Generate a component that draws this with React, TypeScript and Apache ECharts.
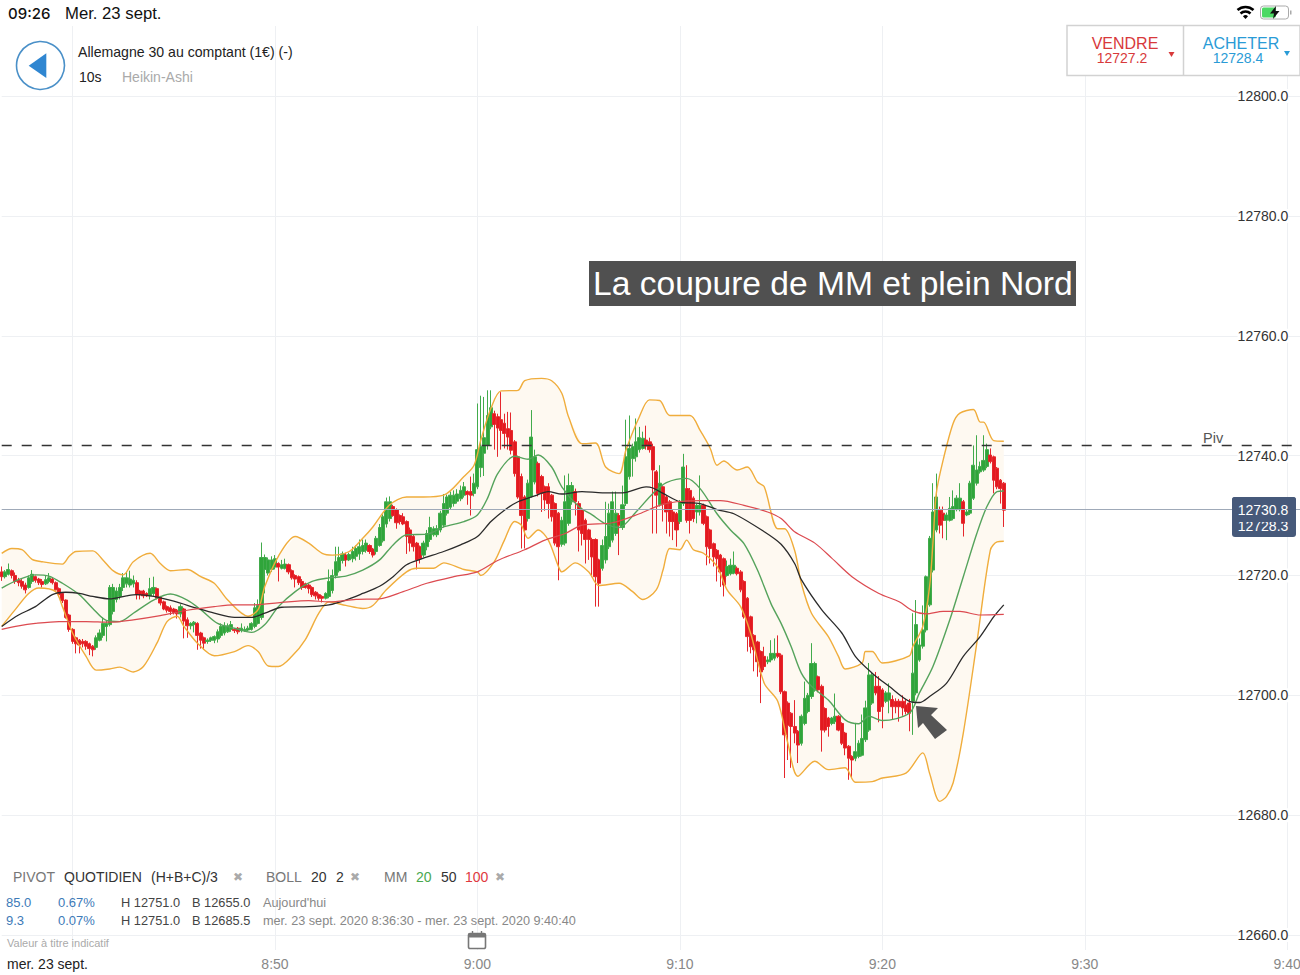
import React, { useEffect, useRef } from "react";
import * as echarts from "echarts";

// Prices are written as points above this level, as [open, close, low, high].
const PRICE_BASE = 12700;

const barsA = [
[20.6,19.8,19.1,21.5],[19.8,20.6,19.5,20.9],[20.2,21,20,22],[20.8,20,19.5,21],[20,19,18.6,20.5],[19.2,18.8,18.2,19.6],[19,18.2,17.8,19.4],[18.4,17.6,17,18.8],[18,19.6,17.8,20],[19,20.2,18.6,20.9],
[19.8,19.2,18.8,20],[19.4,18.8,18.4,19.6],[19,18.5,18,19.4],[18.6,19.3,18.4,20],[19,19.6,18.7,20.4],[19.4,18.8,18.5,19.6],[18.8,17.6,17.5,19],[17.8,16.8,16.4,18],[17,15.8,15.4,17.2],[15.9,13,12.8,16],
[13.4,11,10.6,13.6],[11,9,8.6,11.2],[9.6,8.6,7,9.8],[9.2,8.4,7,9.4],[9,8.6,8,9.4],[9,8.2,7.6,9.2],[8.6,7.8,6.7,8.8],[8.2,7.6,6.5,8.4],[8,9.6,7.6,10],[9.2,10.4,9,11],
[10,12,9.6,13],[11.5,12,9,12.4],[11.8,18,11.5,18.4],[14,18,13.5,18.6],[16,17.4,15.5,18],[16.5,18,16,18.6],[18,19.6,17.4,20.4],[18.6,19.6,18,20.6],[18.4,19.4,18,20.8],[18.6,19.2,18,20],
[18.8,16.8,16,19.2],[17.4,16.8,16,17.6],[17.4,16.6,16.2,17.6],[17,16.6,16.4,17.2],[16.6,17.8,16,19.6],[17,18,16.6,19.8],[17.8,16.2,16,18],[16.4,15.4,15,16.6],[15.6,14.4,14.2,15.8],[14.8,14.2,13.8,15],
[14.6,14,13.4,15],[14.4,13.8,13.5,14.6],[14.2,13.6,12.8,14.4],[13.6,14.8,13,15.2],[14.4,12.4,9.5,14.6],[12.6,11.6,9.6,13],[11.6,12,11,12.2],[11.8,12.2,10.5,12.4],[12,10,7.6,12.2],[10.4,9.2,7.8,10.6],
[9.6,8.7,7.6,9.8],[9,9.2,8.6,9.5],[9.2,9.6,8.9,9.8],[9.2,9.8,8.7,10],[9.4,10.6,8.8,11],[10,11.5,9.6,12],[10.4,11.6,10,12.2],[10.6,11.6,10.4,12],[11,11.8,10.6,12.4],[11,10.8,10.4,11.2],
[11.2,10.6,10.2,11.4],[10.8,11.2,10.5,12],[10.8,11,10.6,11.5],[10.9,11.2,10.7,11.6],[11,12,10.8,12.2],[11.5,14.6,11.2,15.4],[12,15,11.8,16],[13,23,12.6,25.5],[21,23,17,23.5],[20.4,22.6,20,23],
[21,22.6,20.6,23.2],[21.4,22.8,21,23.4],[22,21.4,19,22.2],[21.2,21.8,21,22.6],[21.2,21.9,21,22.8],[21.8,20.6,20.2,22],[20.8,19.6,19.3,21],[20,19.4,18,20.2],[19.8,18.8,18.4,20],[19,18,17.6,19.4],
[18.6,18,17.8,18.8],[18.4,17.8,17,18.6],[18,16.8,16.4,18.2],[17.2,16.6,16,17.4],[16.8,16.2,15.8,17],[16.5,16.2,15.5,16.7],[16.2,17,16,17.2],[16.5,19,16.2,21],
];

const barsB = [
[17.5,20,17,21],[20,22.3,19.5,24.8],[20.8,23,20.5,24.8],[22.5,23.6,22,24],[23.4,22.6,21.5,23.8],[22.6,23.5,22.4,23.8],[22.8,24,22.2,24.8],[23.2,24.5,22.5,25],[23.6,24.8,22.6,26],[24,25,23.5,26],
[24.2,25.4,23.8,26],[25,24,23.6,25.2],[24.4,23.4,23,24.6],[24,26.2,23.5,26.6],[25,28,24.8,28.6],[25.8,29.8,25.5,30.2],[28.6,32.3,28,33],[29.5,32.3,29,33.2],[31.5,30,29.8,31.8],[31,28.8,27.8,31.2],
[30,29,28.5,30.2],[29.8,28.6,28.4,30.4],[29,26.5,23.6,29.2],[27.6,25.4,24,28],[26.5,24.8,24,26.8],[25.4,22.6,21,25.6],[24.8,22.8,22,25],[23.4,25.4,23,25.8],[24.8,27,24.2,27.6],[26,28,25.6,29.8],
[26.8,27.8,26.5,28.2],[26.8,27.8,26.4,28.4],[27.6,30.4,27.2,30.8],[28.4,32,28,33.6],[30.4,33.1,30,33.5],[31.4,33.4,31,34],[32,33.4,31.5,34.2],[32.4,33.6,32,34.4],[32.8,34.2,32.4,35],[33.4,34.8,33,35.6],
[34,33.5,31.8,34.2],[34,33.4,30,36.5],[33.7,35.4,33.2,37],[34.8,41,34.4,48.7],[38,41.5,36.4,50],[40.4,43,36.6,49.8],[41.7,46.7,41,50.9],[44.8,48,44.4,50.9],[47,45.2,41,47.5],[46.5,44.6,39.8,47],
[46,44.2,41,50.6],[45.4,43.7,41.2,47],[44.5,43.1,41,47.3],[44.2,40.9,40.2,47.2],[42.3,37,36.5,42.6],[39.8,33.1,32.8,40],[36.5,30,24.5,37],[33.1,27.6,24.5,33.4],[29.5,35.4,29,36],[33.2,43.1,33,47.6],
[35.6,39.8,35.2,41],[38.7,33.7,33.2,39],[36.5,33.7,30.6,36.8],[34.8,32.6,30.8,35],[34.8,32,29.5,35.4],[33.4,29.8,29,33.6],[32,25.4,25,32.2],[30.4,24.8,19.2,30.6],[25.2,29.2,24.8,29.8],[25.4,32.3,25,36.7],
[28.7,35,28.3,37],[32.3,35,31.8,35.6],[34,32.3,30,34.5],[32,27.6,24,32.4],[31,27,25,31.3],[29.2,26,22,29.5],[27.6,26,22.6,27.8],[26,23.1,20,26.3],[26,19.8,14.8,26.2],[22.6,18.7,14.8,22.8],
[21.2,25,20.8,26],[22.6,26.5,22,32.3],[24.8,30.4,24.4,32],[25.9,32.3,25.5,34],[27,30.4,26.6,34],[30,28.4,23.4,30.4],[28,31.8,27.6,35],[32,39.8,31.6,46],[36.5,41.2,36,46.7],[39.5,41.5,36.5,42],
[39.8,42.3,39,46.2],[41,43,40.5,44.8],[41.2,42.9,41,44],[42.6,41.6,41,45],[42.3,41,40.5,43],[41.5,37.6,27,42],[37.3,33.4,27,37.6],[31.8,35.4,31.5,38.4],
];

const barsC = [
[34.8,32,29,35],[33.1,30.6,27,33.4],[32.3,29,26.5,32.6],[30.6,29,25.9,31],[30.3,27.6,24.8,30.6],[29,32.3,28.6,32.6],[32,38.1,31.6,40.3],[34.5,29.2,28.8,38.4],[34.2,29.2,27,34.6],[32.9,29.5,28.9,33.2],
[30.6,31.7,28.7,32],[30.6,31.7,30,36.7],[31.7,28.7,28.4,32],[29.8,24.8,21.7,30],[27.6,24.5,22,27.8],[25.3,23.1,21.5,25.5],[24.2,22.8,19,24.4],[23.4,20.6,18.1,23.6],[22.8,18.4,16.5,23],[20,21.5,19.8,22.5],
[20.3,21.7,20,22.8],[20.4,21.7,20.2,24],[21.2,20.3,20,21.5],[20.6,17.6,17.2,20.9],[19,13.1,12.8,19.2],[16.2,9.8,7.3,16.4],[13.1,8.1,7,13.3],[10,7.6,4,10.2],[8.9,5.6,3.1,9.1],[7.3,3.9,-1.3,7.5],
[6.5,4.8,4.2,8.1],[5.6,5.9,5.2,6.5],[5.9,7,5.5,9.2],[6.2,7,5.8,9.5],[7,6.5,6.2,10],[6.7,0.6,0.2,7],[0.6,-6.6,-13.8,0.8],[-1.3,-5,-10.8,-1],[-3,-5.2,-12.1,-2.8],[-5.2,-6.3,-8,-0.8],
[-6,-8.3,-11.3,-5.8],[-8,-3.5,-8.4,-3.2],[-4.7,-0.5,-5,2.3],[-2.7,0,-3,0.4],[-0.2,5.3,-0.6,8.7],[0.9,5.3,0.6,5.6],[3.1,0.9,0.5,3.3],[1.5,-5.8,-9.4,1.8],[-2.2,-5.8,-6.2,-2],[-3.8,-5.2,-6.9,-3.6],
[-4.7,-3.8,-5,-3.6],[-4.4,-3.5,-4.8,0.3],[-3.5,-5.8,-6,-3.3],[-4.7,-8,-8.3,-4.5],[-6.3,-8.8,-10,-6.1],[-8.5,-10.5,-14.1,-8.3],[-10.2,-10.8,-13.8,-10],
];

const barsD = [
[-10.5,-9.4,-11,-4.6],[-10.2,-8,-10.5,-7.5],[-10,-7.2,-10.2,-3.2],[-7.4,-2.1,-7.8,-0.9],[-5.8,3.4,-6.1,5.4],[-1.3,3.4,-1.6,3.8],[1.5,0.4,0,3.9],[1.5,-2.7,-4.5,3.2],[0.9,-1.9,-5.5,1.2],[-1,0.4,-1.3,0.7],
[-0.8,0.4,-3,2],[-0.7,-1.9,-4,0],[-1,-1.9,-3,-0.5],[-1,-1.9,-4.4,-0.6],[-1,-2.1,-3.4,0],[-1.6,-2.7,-3.2,-0.7],[-1.3,-3,-6,-0.6],[-1,3.7,-6.6,13.7],[0.4,11.8,0,15.9],[5.9,8.4,5.6,9.5],
[8.2,10.9,7.8,15],[10.9,19.8,10.5,20],[15.1,26.2,14.8,26.6],[20.9,30.6,20.5,35.4],[27.6,33.1,27.2,37],[30.9,28.4,27,31.5],[30.4,29.2,26.2,31.5],[29.2,30.1,25.9,30.5],[29.2,31.2,29,33.1],[29.5,31.5,29.2,34.2],
[31,32.9,30.7,33.4],[31,32.9,30.7,35.4],[32.3,28.7,26.5,32.6],[30.1,30.6,29.9,31],[30.4,35.4,30.1,35.8],[32.9,38.4,32.6,41.7],[35.4,37.6,35,43.4],[37.3,38.2,37,39],[37.6,39.2,37.3,43.4],[38.2,41,37.9,42],
[40.1,39,38.7,41.2],[39.8,35.9,33.7,40],[37.9,34.8,34.4,38.1],[35.9,34.5,32,36.1],[35.4,30.9,28.1,35.6],
];

// Indicator lines as [bar number, points above PRICE_BASE], read at their turning points.
const upperBand = [[0,23.7],[3,24.5],[6,24.3],[9,22.7],[12,22.3],[18,21.9],[20,23.2],[22,24],[27,24.1],[30,22.6],[33,20.8],[36,20.1],[39,22.3],[44,23.7],[47,22],[50,20.8],[55,21],[59,19.8],[63,18.7],[67,15.9],[73,13.2],[76,14.3],[78,18.2],[82,23.2],[87,26.5],[91,25.4],[95,23.7],[98,23.4],[103,24],[107,26.2],[110,28.1],[115,31.8],[120,33.1],[125,33.1],[131,33.4],[137,36.5],[140,38.4],[142,42.6],[145,47.9],[148,50.8],[153,50.9],[155,52.5],[160,52.9],[163,52.5],[166,50.4],[168,46.5],[172,42],[176,42.1],[179,38.1],[183,37],[185,40.9],[189,46.5],[192,49.3],[195,49.2],[198,46.7],[204,46.7],[207,44.2],[210,41.2],[212,38.4],[214,39.1],[218,37.6],[221,38.1],[224,35.6],[226,34.8],[230,27.8],[232,27.8],[235,24.2],[237,18.7],[240,13.7],[245,9.8],[248,6.5],[250,4.4],[255,5.4],[256,7.3],[258,7.3],[261,5.4],[269,6.6],[270,8.1],[273,11.5],[275,18.1],[276,25.4],[277,33.7],[279,39.2],[282,45.4],[284,47.1],[288,47.7],[290,45.6],[291,45.6],[294,42.5],[297,42.4]];
const lowerBand = [[0,11.5],[4,14.3],[8,17],[11,17.9],[16,17.3],[18,14.8],[21,10.4],[25,6.5],[28,4.2],[32,4.4],[35,4.7],[39,3.9],[42,4.8],[46,8.7],[49,12.3],[52,13.2],[54,11.5],[58,8.7],[63,6.6],[69,7.3],[73,8.3],[76,7.3],[79,4.9],[82,4.8],[86,6.5],[90,9.3],[94,13.7],[97,15.6],[102,15],[107,14.5],[110,15],[114,17.6],[120,20.6],[123,21.2],[128,21.2],[131,22.1],[137,21],[141,20.6],[142,20],[146,22.3],[149,25.9],[152,29],[154,28.4],[156,26.2],[159,27.6],[162,25.9],[165,21.5],[166,20.6],[170,22.1],[174,20.6],[177,18.3],[183,18.7],[187,17.3],[190,16],[194,17.6],[196,20.9],[198,24.5],[201,24.3],[203,25.9],[205,24.3],[208,23.7],[212,21.5],[215,17.6],[219,14.8],[222,10.3],[226,2],[230,-1],[233,-8],[236,-13.5],[241,-11],[245,-12.4],[250,-12.1],[253,-14.5],[258,-14.4],[261,-13.8],[268,-13],[273,-9.6],[275,-13],[278,-17.7],[280,-16.9],[282,-14.6],[285,-6.3],[289,8.7],[293,24.2],[295,25.6],[297,25.7]];
const mm20 = [[0,17.9],[5,19.3],[10,20.1],[14,19.9],[18,18.7],[23,16.8],[27,14.5],[31,12.5],[35,12.3],[39,13.7],[45,15.9],[50,16.9],[55,15.9],[59,14.3],[64,12],[69,11.2],[74,10.5],[78,11.8],[82,14.8],[87,17.3],[92,19],[97,19.6],[102,19.9],[107,20.9],[112,22.6],[116,25.1],[120,26.8],[126,26.9],[131,28.1],[137,29],[141,30.1],[144,32.9],[147,37],[152,39.9],[156,39.4],[159,40.1],[163,38.1],[166,34.8],[171,31.5],[175,30.1],[179,28.6],[183,28],[188,30.6],[193,33.7],[197,35.5],[203,36.2],[207,34.5],[212,30.3],[216,27.6],[220,25.3],[224,20.9],[228,15.3],[231,12],[234,8.1],[237,3.7],[240,1.5],[245,-0.8],[250,-4.1],[254,-4.75],[257,-3.5],[261,-4.2],[269,-3],[272,0.4],[276,4.8],[281,12.6],[285,19.8],[289,27],[292,31.5],[295,34],[297,34.1]];
const mm50 = [[0,11.5],[5,13.4],[10,14.8],[15,16.8],[19,17.2],[23,17],[27,16.5],[32,16.1],[37,16.6],[40,16.8],[45,16.5],[51,15.7],[58,14.5],[63,13.7],[69,13],[74,13],[78,13.7],[83,14.7],[91,14.8],[97,15.1],[102,15.9],[107,17],[112,18.2],[116,19.8],[120,21.8],[124,22.7],[131,24],[136,25.1],[141,26.5],[145,29],[149,30.9],[153,32.3],[158,33.3],[162,34],[166,33.6],[172,34],[178,33.8],[184,33.8],[191,34.8],[193,34.6],[196,33.7],[201,32.3],[207,32],[212,31],[217,30.3],[226,27.3],[231,25.2],[235,22],[237,19.3],[243,14.3],[249,10.4],[253,6.5],[258,3.7],[263,1.5],[269,-1],[272,-1.2],[275,-0.2],[280,2],[285,6.5],[290,9.8],[294,13.1],[297,15.1]];
const mm100 = [[0,11],[5,11.6],[10,12],[17,12.3],[25,12.3],[32,12.2],[39,12.6],[47,13.3],[55,14.2],[63,14.8],[69,15.1],[75,15.1],[83,15.5],[91,15.8],[97,15.6],[105,16],[112,16.1],[119,17.3],[126,18.7],[134,19.8],[141,20.6],[147,22.5],[155,24.3],[161,25.9],[167,27],[172,28.4],[181,28.8],[189,30.3],[195,31.7],[200,32.3],[207,32.5],[213,32.5],[220,31.7],[227,30.6],[231,29.5],[235,27.3],[241,25.4],[246,22.9],[252,19.8],[260,17],[266,15.6],[270,14.1],[274,13.6],[279,14],[284,14],[290,13.4],[297,13.5]];

const pivotLevel = 12741.65;
const lastPriceLine = 12731;
const lastPrice = 12730.8;
const secondPrice = 12728.3;
const sellPrice = "12727.2";
const buyPrice = "12728.4";
const yTop = 12811.7;
const yBottom = 12660;
const yStep = 20;

const FONT = "'Liberation Sans', Arial, sans-serif";

// Bars are 10 seconds apart, from 8:36:30.
function buildTimes(): string[] {
  const out: string[] = [];
  for (let i = 0; i < 386; i++) {
    const s = 8 * 3600 + 36 * 60 + 30 + i * 10;
    const h = Math.floor(s / 3600);
    const m = Math.floor((s % 3600) / 60);
    const ss = s % 60;
    out.push(`${h}:${String(m).padStart(2, "0")}:${String(ss).padStart(2, "0")}`);
  }
  return out;
}
const times = buildTimes();
const isTenMinute = (_: number, v: string) => /^\d+:\d0:00$/.test(v);

const ohlc = [...barsA, ...barsB, ...barsC, ...barsD].map((b) => b.map((v) => PRICE_BASE + v));
const toLine = (l: number[][]) => l.map(([i, v]) => [i, PRICE_BASE + v]);

const txt = (x: number, y: number, text: string, size: number, fill: string, extra: any = {}) => ({
  type: "text",
  x,
  y,
  z: 100,
  silent: true,
  style: { text, fontSize: size, fill, fontFamily: FONT, textVerticalAlign: "middle", verticalAlign: "middle", ...extra },
});
const CROSS = { fontFamily: "'DejaVu Sans'" };

const graphics: any[] = [
  txt(8, 13, "09:26", 15, "#111", { fontFamily: "Inter", fontWeight: 500 }),
  txt(65, 13, "Mer. 23 sept.", 16.7, "#111"),
  { type: "circle", z: 100, shape: { cx: 40.5, cy: 65.5, r: 24 }, style: { fill: "#fff", stroke: "#4a90c8", lineWidth: 1.6 } },
  { type: "polygon", z: 100, shape: { points: [[28.7, 65.7], [46.3, 53.3], [46.3, 78]] }, style: { fill: "#2f86d1" } },
  txt(78, 52, "Allemagne 30 au comptant (1€) (-)", 14.1, "#222"),
  txt(79, 77, "10s", 14, "#222"),
  txt(122, 77, "Heikin-Ashi", 14, "#aaa"),

  { type: "arc", z: 100, shape: { cx: 1245.5, cy: 19, r: 12, startAngle: -2.3, endAngle: -0.84 }, style: { fill: "none", stroke: "#000", lineWidth: 2.6 } },
  { type: "arc", z: 100, shape: { cx: 1245.5, cy: 19, r: 7.5, startAngle: -2.3, endAngle: -0.84 }, style: { fill: "none", stroke: "#000", lineWidth: 2.6 } },
  { type: "sector", z: 100, shape: { cx: 1245.5, cy: 19, r0: 0, r: 3.8, startAngle: -2.3, endAngle: -0.84 }, style: { fill: "#000" } },
  { type: "rect", z: 100, shape: { x: 1260.5, y: 6, width: 28, height: 13, r: 3 }, style: { fill: "#fff", stroke: "#aaa", lineWidth: 1 } },
  { type: "rect", z: 100, shape: { x: 1262, y: 7.5, width: 14, height: 10, r: 1.5 }, style: { fill: "#4cd964" } },
  { type: "polygon", z: 100, shape: { points: [[1276, 6], [1270, 13.5], [1274, 13.5], [1273, 19], [1279.5, 11], [1275.5, 11]] }, style: { fill: "#111" } },
  { type: "rect", z: 100, shape: { x: 1290, y: 10.5, width: 1.5, height: 4 }, style: { fill: "#aaa" } },

  { type: "rect", z: 100, shape: { x: 1067, y: 25.5, width: 233, height: 50 }, style: { fill: "#fff", stroke: "#d2d2d2", lineWidth: 1.5 } },
  { type: "line", z: 100, shape: { x1: 1183.5, y1: 25.5, x2: 1183.5, y2: 75.5 }, style: { stroke: "#d2d2d2", lineWidth: 1.5 } },
  txt(1125, 43.5, "VENDRE", 16, "#d8393b", { align: "center", textAlign: "center" }),
  txt(1122, 57.5, sellPrice, 14, "#d8393b", { align: "center", textAlign: "center" }),
  { type: "polygon", z: 100, shape: { points: [[1168.5, 52], [1174.5, 52], [1171.5, 57]] }, style: { fill: "#d8393b" } },
  txt(1241, 43.5, "ACHETER", 16, "#2a9bd6", { align: "center", textAlign: "center" }),
  txt(1238, 57.5, buyPrice, 14, "#2a9bd6", { align: "center", textAlign: "center" }),
  { type: "polygon", z: 100, shape: { points: [[1284, 51], [1290, 51], [1287, 56]] }, style: { fill: "#2a9bd6" } },

  { type: "rect", z: 100, shape: { x: 589, y: 261, width: 487, height: 45 }, style: { fill: "#505050" } },
  txt(593, 283.5, "La coupure de MM et plein Nord", 33.6, "#fff"),

  { type: "polygon", z: 100, shape: { points: [[916, 706], [938, 708], [931, 715], [947, 730], [935, 739], [923, 723], [918, 728]] }, style: { fill: "#555" } },

  txt(1203, 437.5, "Piv", 14.5, "#555"),

  { type: "rect", z: 100, shape: { x: 1232, y: 497, width: 64, height: 40, r: 3 }, style: { fill: "#46597a" } },
  txt(1263, 525.5, secondPrice.toFixed(1), 14, "#fff", { align: "center", textAlign: "center" }),
  { type: "rect", z: 100, shape: { x: 1232, y: 497, width: 64, height: 25, r: [3, 3, 0, 0] }, style: { fill: "#46597a" } },
  txt(1263, 510, lastPrice.toFixed(1), 14, "#fff", { align: "center", textAlign: "center" }),

  txt(13, 877, "PIVOT", 14, "#777"),
  txt(64, 877, "QUOTIDIEN", 14, "#333"),
  txt(151, 877, "(H+B+C)/3", 14, "#333"),
  txt(233, 877, "✖", 12, "#aaa", CROSS),
  txt(266, 877, "BOLL", 14, "#777"),
  txt(311, 877, "20", 14, "#333"),
  txt(336, 877, "2", 14, "#333"),
  txt(350, 877, "✖", 12, "#aaa", CROSS),
  txt(384, 877, "MM", 14, "#777"),
  txt(416, 877, "20", 14, "#4aa84f"),
  txt(441, 877, "50", 14, "#333"),
  txt(465, 877, "100", 14, "#e0393e"),
  txt(495, 877, "✖", 12, "#aaa", CROSS),

  txt(6, 902.5, "85.0", 13, "#3d7ab8"),
  txt(58, 902.5, "0.67%", 13, "#3d7ab8"),
  txt(121, 902.5, "H 12751.0", 12.8, "#444"),
  txt(192, 902.5, "B 12655.0", 12.8, "#444"),
  txt(263, 902.5, "Aujourd'hui", 12.7, "#888"),
  txt(6, 920.5, "9.3", 13, "#3d7ab8"),
  txt(58, 920.5, "0.07%", 13, "#3d7ab8"),
  txt(121, 920.5, "H 12751.0", 12.8, "#444"),
  txt(192, 920.5, "B 12685.5", 12.8, "#444"),
  txt(263, 920.5, "mer. 23 sept. 2020 8:36:30 - mer. 23 sept. 2020 9:40:40", 12.68, "#888"),
  txt(7, 942.5, "Valeur à titre indicatif", 11, "#aaa"),

  { type: "rect", z: 100, shape: { x: 468.5, y: 933.5, width: 17, height: 15, r: 1.5 }, style: { fill: "#fff", stroke: "#777", lineWidth: 1.6 } },
  { type: "rect", z: 100, shape: { x: 468.5, y: 933.5, width: 17, height: 4, r: 1 }, style: { fill: "#777" } },
  { type: "line", z: 100, shape: { x1: 472.5, y1: 931, x2: 472.5, y2: 935 }, style: { stroke: "#777", lineWidth: 1.4 } },
  { type: "line", z: 100, shape: { x1: 481.5, y1: 931, x2: 481.5, y2: 935 }, style: { stroke: "#777", lineWidth: 1.4 } },

  { type: "rect", z: 100, shape: { x: 0, y: 953, width: 84, height: 22 }, style: { fill: "#fff" } },
  txt(7, 964, "mer. 23 sept.", 14, "#222"),
];

const lineSeries = (name: string, data: number[][], color: string, width: number) => ({
  name,
  type: "line",
  data: toLine(data),
  smooth: 0.3,
  symbol: "none",
  silent: true,
  lineStyle: { color, width },
  z: 4,
});

export default function App() {
  const ref = useRef<HTMLDivElement>(null);
  useEffect(() => {
    document.body.style.margin = "0";
    const chart = echarts.init(ref.current!, undefined, { renderer: "svg" });
    chart.setOption({
      animation: false,
      backgroundColor: "#fff",
      grid: { left: 1.7, top: 26, width: 1299, height: 909, containLabel: false, outerBoundsMode: "none" },
      xAxis: {
        type: "category",
        data: times,
        boundaryGap: false,
        axisLine: { show: false },
        axisTick: { show: true, interval: isTenMinute, length: 15, lineStyle: { color: "#eef0f3", width: 1 } },
        splitLine: { show: true, interval: isTenMinute, lineStyle: { color: "#eef0f3", width: 1 } },
        axisLabel: {
          show: true,
          interval: isTenMinute,
          margin: 22,
          fontSize: 14,
          fontFamily: FONT,
          color: "#888",
          formatter: (v: string) => (v.startsWith("8:40") ? "" : v.slice(0, -3)),
        },
      },
      yAxis: {
        type: "value",
        position: "right",
        min: yBottom,
        max: yTop,
        interval: yStep,
        scale: true,
        axisLine: { show: false },
        axisTick: { show: false },
        splitLine: { show: true, showMaxLine: false, lineStyle: { color: "#eef0f3", width: 1 } },
        axisLabel: {
          inside: true,
          margin: 12.5,
          fontSize: 14,
          fontFamily: FONT,
          color: "#333",
          backgroundColor: "#fff",
          formatter: (v: number) => (v % yStep === 0 ? v.toFixed(1) : ""),
        },
      },
      series: [
        {
          type: "custom",
          name: "BOLL fond",
          silent: true,
          z: 1,
          data: [[0, yBottom]],
          renderItem: (_: any, api: any) => {
            const pts = [...toLine(upperBand), ...toLine(lowerBand).reverse()].map((p) => api.coord(p));
            return { type: "polygon", shape: { points: pts }, style: { fill: "#fef9f1" } };
          },
        },
        {
          type: "candlestick",
          name: "Heikin-Ashi",
          data: ohlc,
          barWidth: 3.6,
          silent: true,
          z: 3,
          itemStyle: { color: "#2fa53a", color0: "#e3191f", borderColor: "#42ab4c", borderColor0: "#e5272d", borderWidth: 1 },
          markLine: {
            silent: true,
            symbol: "none",
            label: { show: false },
            animation: false,
            data: [
              { yAxis: pivotLevel, lineStyle: { color: "#333", type: [10, 10], width: 1.3 } },
              { yAxis: lastPriceLine, lineStyle: { color: "#9fa9b8", type: "solid", width: 1 } },
            ],
          },
        },
        lineSeries("BOLL haut", upperBand, "#f0ad3c", 1.4),
        lineSeries("BOLL bas", lowerBand, "#f0ad3c", 1.4),
        lineSeries("MM 20", mm20, "#55a35c", 1.4),
        lineSeries("MM 50", mm50, "#2a2a2a", 1.3),
        lineSeries("MM 100", mm100, "#dc4a50", 1.2),
      ],
      graphic: { elements: graphics },
    });
    return () => chart.dispose();
  }, []);
  return <div ref={ref} style={{ position: "fixed", left: 0, top: 0, width: 1300, height: 975, background: "#fff" }} />;
}
